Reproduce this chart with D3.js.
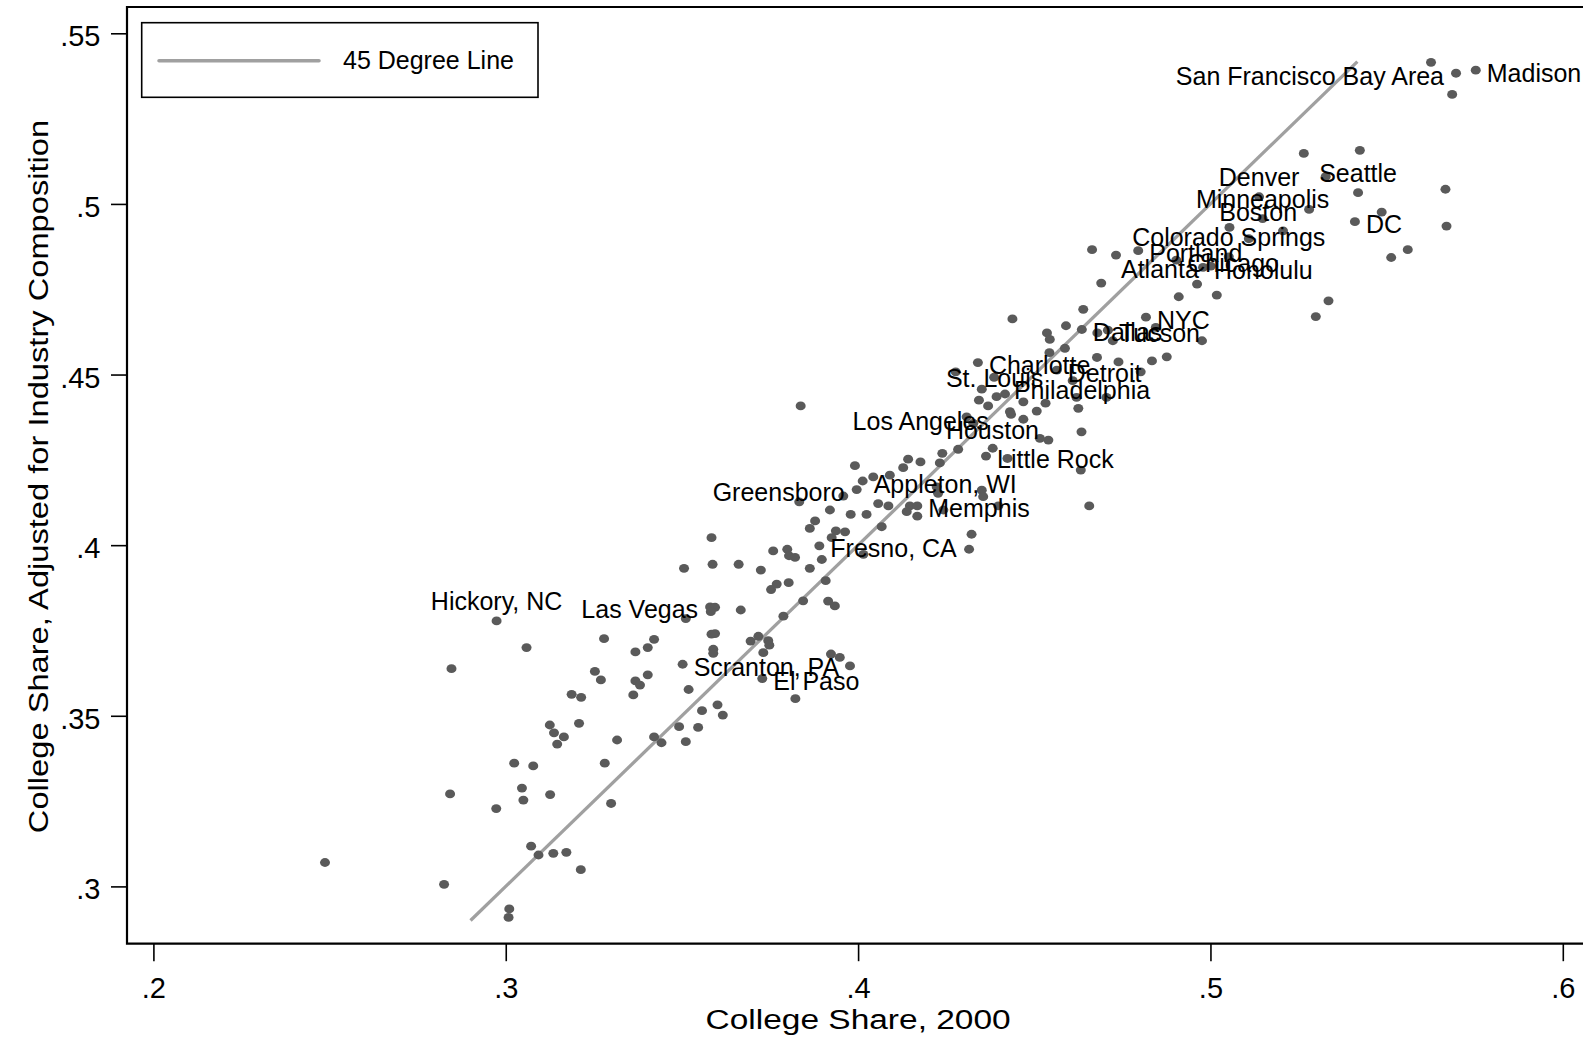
<!DOCTYPE html>
<html>
<head>
<meta charset="utf-8">
<script src="https://cdn.jsdelivr.net/npm/d3@7"></script>
<style>
  body { margin: 0; background: #fff; }
  text { font-family: Arial, "Liberation Sans", sans-serif; fill: #000; }
</style>
</head>
<body>
<script>
// college share in 2000 (x) and adjusted for industry composition (y), one entry per city
var share2000 = [
  .5626,.5697,.5753,.5686,.5265,.5424,.5327,.5419,.5667,.5138,.5280,.5486,.5670,.5410,.5148,.5054,.5206,.5109,.4732,.4795,
  .4903,.4979,.5001,.5052,.5560,.5513,.4962,.4910,.5018,.5335,.5299,.4690,.4664,
  .4639,.4438,.4590,.4536,.4544,.4635,.4679,.4709,.4723,.4845,.4976,.4543,.4587,.4678,.4739,.4834,.4876,.4802,.4340,.4277,
  .4386,.4564,.4609,.4817,
  .3837,.4351,.4393,.4417,.4343,.4369,.4469,.4532,.4507,.4431,.4434,.4469,.4625,.4620,.4705,.4634,.4308,.4327,.4516,.4540,
  .4284,.4382,.4363,.4239,.4232,.4424,.4142,.4177,.4128,.3991,.4090,.4043,.4013,.4632,.4223,.4227,.4351,.4355,.3996,.3958,
  .3833,.4057,.4086,.4147,.4168,.4138,.4168,.4242,.4398,.4656,.3920,.3979,.4024,.3878,.3863,.3937,.3963,.4067,.4322,.3584,
  .3925,.3890,.3759,.3799,.3804,.3821,.3897,.4015,.4315,.3506,.3587,.3661,.3724,.3863,
  .3753,.3769,.3803,.3908,.3844,.3915,.3934,.2974,.3059,.2846,.3279,.3368,.3403,.3421,.3253,.3270,.3368,.3381,.3403,.3362,
  .3187,.3214,.3502,.3519,.3580,.3594,.3582,.3511,.3667,.3584,.3594,.3589,.3589,.3695,.3717,.3745,.3748,.3731,.3728,.3788,
  .3923,.3948,.3977,.3822,.3557,.3601,.3616,.3492,.3546,.3511,.3421,.3442,.3316,.3281,.3299,.3125,.3137,.3165,.3146,.3208,
  .3024,.3078,.3046,.3050,.3126,.2842,.2973,.3072,.3093,.3135,.3172,.3213,.2825,.3010,.3008,.2487
];
var shareAdjusted = [
  .5415,.5383,.5392,.5321,.5148,.5157,.5080,.5033,.5043,.5021,.4984,.4976,.4935,.4948,.4957,.4931,.4921,.4898,.4850,.4863,
  .4835,.4814,.4818,.4845,.4866,.4843,.4765,.4728,.4733,.4716,.4670,.4768,.4866,
  .4691,.4663,.4643,.4622,.4603,.4632,.4622,.4630,.4599,.4638,.4599,.4564,.4577,.4550,.4537,.4540,.4552,.4508,.4535,.4508,
  .4492,.4513,.4482,.4668,
  .4408,.4457,.4435,.4443,.4425,.4408,.4420,.4416,.4393,.4391,.4383,.4369,.4401,.4433,.4433,.4332,.4376,.4357,.4313,.4308,
  .4281,.4284,.4261,.4269,.4241,.4254,.4252,.4244,.4227,.4233,.4205,.4200,.4188,.4220,.4171,.4152,.4161,.4142,.4163,.4144,
  .4127,.4122,.4115,.4115,.4115,.4098,.4085,.4103,.4115,.4115,.4103,.4090,.4090,.4071,.4049,.4042,.4039,.4054,.4032,.4022,
  .4022,.3998,.3983,.3988,.3969,.3964,.3958,.3973,.3988,.3932,.3944,.3944,.3927,.3932,
  .3870,.3886,.3890,.3896,.3837,.3836,.3822,.3778,.3700,.3638,.3726,.3687,.3700,.3724,.3630,.3605,.3602,.3590,.3620,.3561,
  .3563,.3554,.3651,.3577,.3819,.3818,.3805,.3785,.3810,.3739,.3741,.3695,.3683,.3719,.3733,.3720,.3707,.3685,.3609,.3792,
  .3681,.3671,.3646,.3550,.3515,.3532,.3502,.3468,.3466,.3424,.3438,.3421,.3429,.3361,.3243,.3473,.3450,.3438,.3417,.3478,
  .3361,.3353,.3288,.3253,.3269,.3271,.3228,.3118,.3092,.3097,.3100,.3049,.3006,.2934,.2909,.3070
];

// labelled cities
var cityNames = ["San Francisco Bay Area","Madison","Seattle","Denver","Minneapolis","Boston","DC",
  "Colorado Springs","Portland","Chicago","Atlanta","Honolulu","NYC","Dallas","Tucson",
  "Charlotte","St. Louis","Detroit","Philadelphia","Los Angeles","Houston","Little Rock",
  "Greensboro","Appleton, WI","Memphis","Fresno, CA","Hickory, NC","Las Vegas","Scranton, PA","El Paso"];
var cityShare2000 = [.5697,.5753,.5419,.5138,.5148,.5280,.5410,
  .5052,.4795,.4903,.5001,.4979,.4817,.4635,.4709,
  .4340,.4218,.4564,.4411,.4405,.4218,.4363,
  .3996,.4013,.4168,.3890,.2974,.3580,.3502,.3728];
var cityShareAdjusted = [.5383,.5392,.5033,.5021,.4957,.4984,.4948,
  .4845,.4863,.4835,.4818,.4814,.4668,.4632,.4630,
  .4535,.4498,.4513,.4462,.4371,.4346,.4261,
  .4163,.4188,.4115,.3998,.3778,.3819,.3651,.3609];

var xTicks = [.2, .3, .4, .5, .6];
var yTicks = [.3, .35, .4, .45, .5, .55];
var lineRange = [.29, .5417];   // 45 degree line runs over this span
var legendLabel = "45 Degree Line";
var xTitle = "College Share, 2000";
var yTitle = "College Share, Adjusted for Industry Composition";

/************************************************************/
var width = 1583;
var height = 1037;
var frame = {left: 127, top: 7, bottom: 943.7, right: 1610};

// where each marker label sits, as a clock position (Stata style)
var labelClock = {"San Francisco Bay Area": 9, "Boston": 9, "Atlanta": 9, "Greensboro": 9, "Las Vegas": 9,
                  "Los Angeles": 9,
                  "Seattle": 12, "Denver": 12, "Minneapolis": 12, "Colorado Springs": 12, "Hickory, NC": 12};

var x = d3.scaleLinear().domain([.2, .6]).range([153.4, 1562.8]);
var y = d3.scaleLinear().domain([.3, .55]).range([886.4, 33.3]);

var tickFmt = function(d){ return String(d).replace(/^0\./, "."); };

var svg = d3.select("body")
  .append("svg")
  .attr("width", width)
  .attr("height", height);

svg.append("rect")
  .attr("width", width)
  .attr("height", height)
  .style("fill", "#fff");

/* axes */
var yAxis = g => g
  .attr("transform", `translate(${frame.left},0)`)
  .call(d3.axisLeft(y)
    .tickValues(yTicks)
    .tickSize(16)
    .tickPadding(10.5)
    .tickFormat(tickFmt))
  .call(g => g.select(".domain").remove());

var xAxis = g => g
  .attr("transform", `translate(0,${frame.bottom})`)
  .call(d3.axisBottom(x)
    .tickValues(xTicks)
    .tickSize(17.5)
    .tickPadding(16)
    .tickFormat(tickFmt))
  .call(g => g.select(".domain").remove());

var gy = svg.append("g").call(yAxis);
gy.selectAll("text").attr("dy", "0.43em");
var gx = svg.append("g").call(xAxis);

svg.selectAll(".tick line").style("stroke", "#000").style("stroke-width", 1.6);
svg.selectAll(".tick text")
  .style("font-size", "29px")
  .style("font-family", "Arial, 'Liberation Sans', sans-serif")
  .style("fill", "#000");

/* frame of the plot region (right side runs off the picture) */
svg.append("path")
  .attr("d", `M${frame.right},${frame.top}H${frame.left}V${frame.bottom}H${frame.right}`)
  .style("fill", "none")
  .style("stroke", "#000")
  .style("stroke-width", 2.2);

/* 45 degree line */
var diag = lineRange.map(v => [v, v]);
svg.append("path")
  .datum(diag)
  .attr("d", d3.line().x(d => x(d[0])).y(d => y(d[1])))
  .style("fill", "none")
  .style("stroke", "#a0a0a0")
  .style("stroke-width", 3.3);

/* markers */
var points = share2000.map(function(d, i){ return {x: d, y: shareAdjusted[i]}; });
svg.append("g")
  .selectAll("ellipse")
  .data(points)
  .enter()
  .append("ellipse")
  .attr("cx", d => x(d.x))
  .attr("cy", d => y(d.y))
  .attr("rx", 5)
  .attr("ry", 4.4)
  .style("fill", "#5a5a5a");

/* marker labels */
var cities = cityNames.map(function(d, i){
  return {name: d, x: cityShare2000[i], y: cityShareAdjusted[i], clock: labelClock[d] || 3};
});
svg.append("g")
  .selectAll("text")
  .data(cities)
  .enter()
  .append("text")
  .attr("x", function(d){
    if (d.clock == 9) return x(d.x) - 12;
    if (d.clock == 12) return x(d.x);
    return x(d.x) + 11;
  })
  .attr("y", d => d.clock == 12 ? y(d.y) - 10.5 : y(d.y) + 11.5)
  .attr("text-anchor", d => d.clock == 9 ? "end" : (d.clock == 12 ? "middle" : "start"))
  .style("font-size", "25px")
  .text(d => d.name);

/* legend */
var legend = svg.append("g");
legend.append("rect")
  .attr("x", 141.7)
  .attr("y", 22.7)
  .attr("width", 396.3)
  .attr("height", 74.6)
  .style("fill", "#fff")
  .style("stroke", "#000")
  .style("stroke-width", 1.6);
legend.append("line")
  .attr("x1", 159).attr("x2", 319)
  .attr("y1", 60.7).attr("y2", 60.7)
  .style("stroke", "#a0a0a0")
  .style("stroke-width", 3.5)
  .style("stroke-linecap", "round");
legend.append("text")
  .attr("x", 343)
  .attr("y", 69.3)
  .style("font-size", "25px")
  .text(legendLabel);

/* axis titles: Stata draws these a little wider than Arial, so stretch them along the text */
svg.append("text")
  .attr("transform", `translate(${x(.4)},1028.5) scale(1.196,1)`)
  .attr("text-anchor", "middle")
  .style("font-size", "28px")
  .text(xTitle);

svg.append("text")
  .attr("transform", "translate(48.3,476.5) rotate(-90) scale(1.21,1)")
  .attr("text-anchor", "middle")
  .style("font-size", "27px")
  .text(yTitle);
</script>
</body>
</html>
